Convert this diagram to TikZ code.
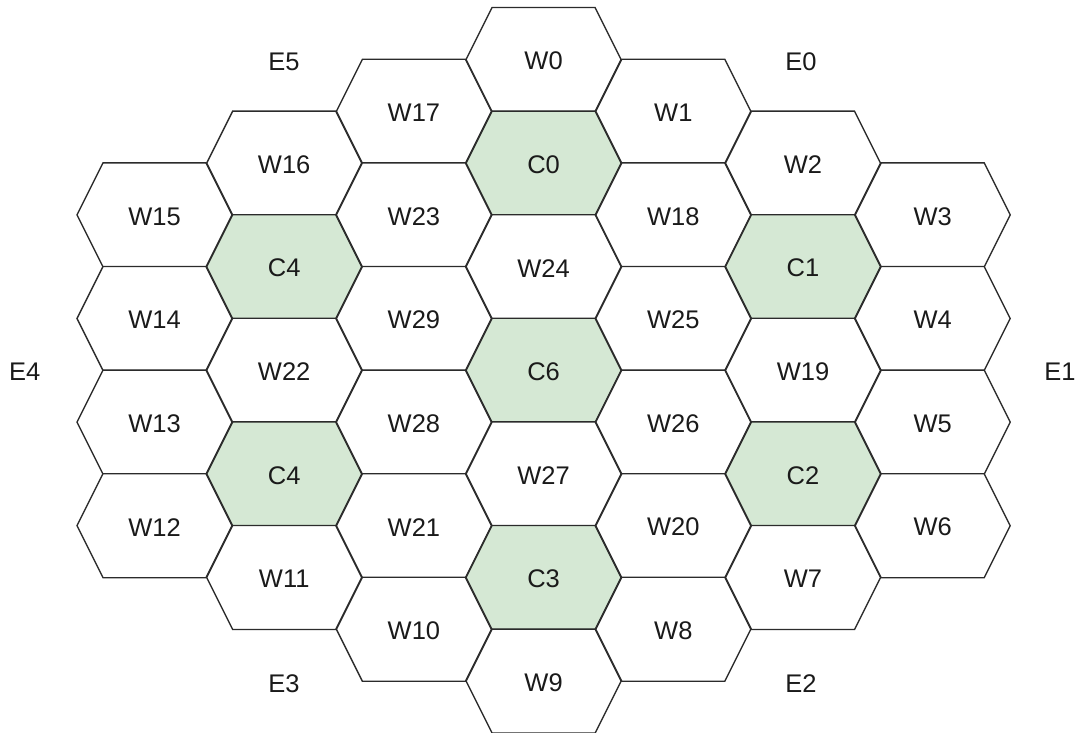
\documentclass[tikz,border=0pt]{standalone}
\usepackage{fontspec}
\setmainfont{Liberation Sans}
\definecolor{edge}{HTML}{2B2B2B}
\definecolor{cellgreen}{HTML}{D5E8D4}
\definecolor{txt}{HTML}{1A1A1A}
\newcommand\hexcell[5]{%
  \coordinate (#1c) at ({154.5+129.7*#2},{59.5+51.8*#3});
  \draw[hexedge,#5] (#1c) ++(-77.5,0) -- ++(26,-52) -- ++(103,0) -- ++(26,52)
     -- ++(-26,52) -- ++(-103,0) -- cycle;
  \node[hexlabel] (#1) at ([yshift=-1.5pt]#1c) {#4};}
\begin{document}
\begin{tikzpicture}[x=1pt,y=-1pt,
  hexedge/.style={draw=edge,line width=1.35pt,line join=miter,fill=white},
  core/.style={fill=cellgreen},
  plain/.style={},
  hexlabel/.style={inner sep=0pt,text=txt,font=\fontsize{25.5}{30}\selectfont},
  edgelabel/.style={inner sep=0pt,text=txt,font=\fontsize{25.5}{30}\selectfont}]
\useasboundingbox (0,0) rectangle (1082,733);
% column 0
\hexcell{W15}{0}{3}{W15}{plain}
\hexcell{W14}{0}{5}{W14}{plain}
\hexcell{W13}{0}{7}{W13}{plain}
\hexcell{W12}{0}{9}{W12}{plain}
% column 1
\hexcell{W16}{1}{2}{W16}{plain}
\hexcell{C4a}{1}{4}{C4}{core}
\hexcell{W22}{1}{6}{W22}{plain}
\hexcell{C4b}{1}{8}{C4}{core}
\hexcell{W11}{1}{10}{W11}{plain}
% column 2
\hexcell{W17}{2}{1}{W17}{plain}
\hexcell{W23}{2}{3}{W23}{plain}
\hexcell{W29}{2}{5}{W29}{plain}
\hexcell{W28}{2}{7}{W28}{plain}
\hexcell{W21}{2}{9}{W21}{plain}
\hexcell{W10}{2}{11}{W10}{plain}
% column 3
\hexcell{W0}{3}{0}{W0}{plain}
\hexcell{C0}{3}{2}{C0}{core}
\hexcell{W24}{3}{4}{W24}{plain}
\hexcell{C6}{3}{6}{C6}{core}
\hexcell{W27}{3}{8}{W27}{plain}
\hexcell{C3}{3}{10}{C3}{core}
\hexcell{W9}{3}{12}{W9}{plain}
% column 4
\hexcell{W1}{4}{1}{W1}{plain}
\hexcell{W18}{4}{3}{W18}{plain}
\hexcell{W25}{4}{5}{W25}{plain}
\hexcell{W26}{4}{7}{W26}{plain}
\hexcell{W20}{4}{9}{W20}{plain}
\hexcell{W8}{4}{11}{W8}{plain}
% column 5
\hexcell{W2}{5}{2}{W2}{plain}
\hexcell{C1}{5}{4}{C1}{core}
\hexcell{W19}{5}{6}{W19}{plain}
\hexcell{C2}{5}{8}{C2}{core}
\hexcell{W7}{5}{10}{W7}{plain}
% column 6
\hexcell{W3}{6}{3}{W3}{plain}
\hexcell{W4}{6}{5}{W4}{plain}
\hexcell{W5}{6}{7}{W5}{plain}
\hexcell{W6}{6}{9}{W6}{plain}
% outer labels
\node[edgelabel] (E5) at (284,62) {E5};
\node[edgelabel] (E0) at (801,62) {E0};
\node[edgelabel] (E4) at (24.7,371.5) {E4};
\node[edgelabel] (E1) at (1060,371.5) {E1};
\node[edgelabel] (E3) at (284,684) {E3};
\node[edgelabel] (E2) at (801,684) {E2};
\end{tikzpicture}
\end{document}
